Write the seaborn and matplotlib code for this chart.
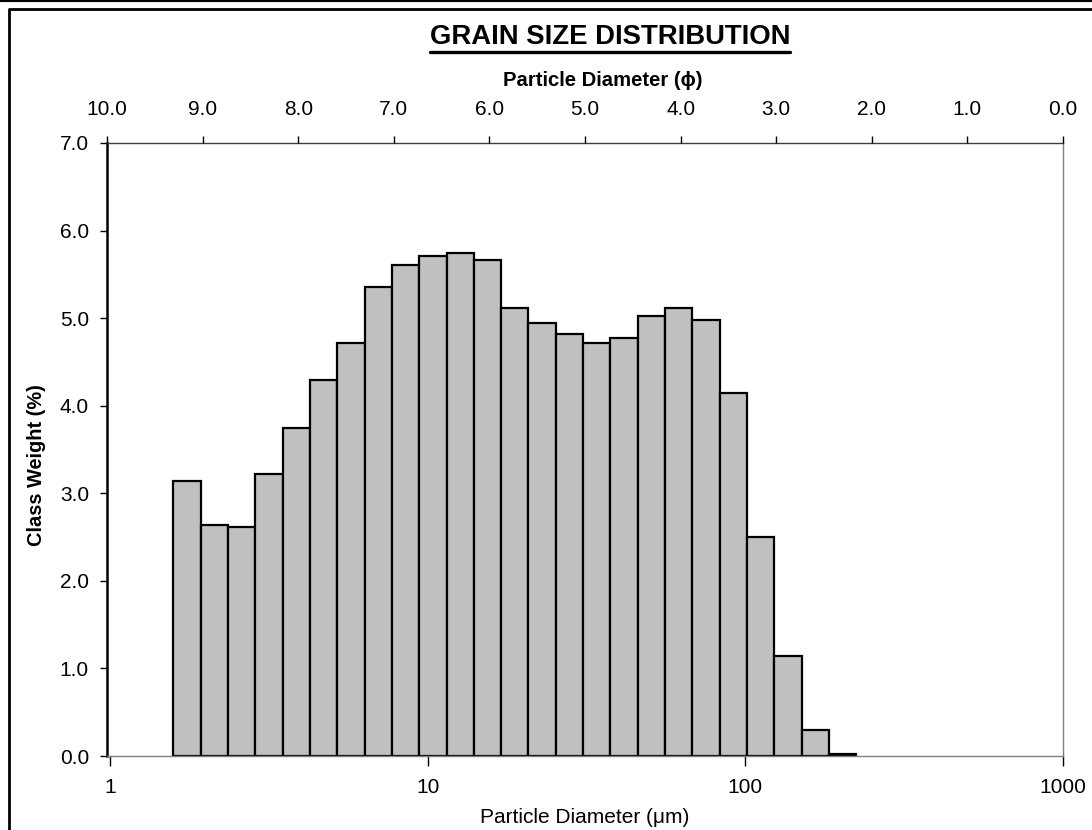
import numpy as np
import matplotlib.pyplot as plt
from matplotlib.lines import Line2D
import seaborn as sns

# ── Style ──────────────────────────────────────────────
sns.set_theme(style="ticks")
plt.rcParams["font.family"] = ["Liberation Sans", "DejaVu Sans"]
plt.rcParams["text.color"] = "black"
plt.rcParams["xtick.color"] = "black"
plt.rcParams["ytick.color"] = "black"

# ── Data ───────────────────────────────────────────────
# class edges in micrometres (geometric classes)
edges_um = [1.58, 1.93, 2.35, 2.86, 3.49, 4.25, 5.18, 6.32, 7.70, 9.39,
            11.45, 13.95, 17.01, 20.73, 25.27, 30.81, 37.56, 45.78, 55.81,
            68.03, 82.93, 101.1, 123.2, 150.2, 183.1, 223.2]
class_weight = [3.14, 2.64, 2.62, 3.22, 3.74, 4.29, 4.72, 5.35, 5.61, 5.71,
                5.74, 5.66, 5.12, 4.94, 4.82, 4.72, 4.77, 5.02, 5.12, 4.98,
                4.14, 2.50, 1.14, 0.30, 0.02]
um_ticks = [1, 10, 100, 1000]
phi_ticks = [10, 9, 8, 7, 6, 5, 4, 3, 2, 1, 0]
y_ticks = [0, 1, 2, 3, 4, 5, 6, 7]

W, H = 1092, 830
FS = 15


def fx(px):
    return px / W


def fy(py):
    return 1 - py / H


fig = plt.figure(figsize=(W / 100, H / 100), dpi=100)
fig.patch.set_facecolor("white")

# axes box: left 107, right 1063, top 143, bottom 756 (pixels)
ax = fig.add_axes([fx(107), fy(756), fx(1063) - fx(107), fy(143) - fy(756)])

edges = np.array(edges_um)
mids = np.sqrt(edges[:-1] * edges[1:])
# with log_scale, seaborn bins in log10 units
log_bins = [float(v) for v in np.log10(edges)]
sns.histplot(x=mids, weights=class_weight, bins=log_bins,
             log_scale=True, color="#C0C0C0", edgecolor="black",
             linewidth=1.6, alpha=1, ax=ax)

ax.set_xlim(1000 * 2.0 ** -10, 1000)
ax.set_ylim(0, 7)
ax.set_xticks(um_ticks)
ax.set_xticklabels([str(t) for t in um_ticks])
ax.xaxis.set_minor_locator(plt.NullLocator())
ax.set_yticks(y_ticks)
ax.set_yticklabels([f"{t:.1f}" for t in y_ticks])
ax.set_xlabel("")
ax.set_ylabel("")
ax.tick_params(axis="x", direction="out", length=7, width=1, pad=9,
               labelsize=FS)
ax.tick_params(axis="y", direction="out", length=5, width=1, pad=8,
               labelsize=FS)

for side in ["bottom", "right"]:
    ax.spines[side].set_color("#808080")
    ax.spines[side].set_linewidth(1.0)
ax.spines["left"].set_color("black")
ax.spines["left"].set_linewidth(1.8)
ax.spines["top"].set_color("#404040")
ax.spines["top"].set_linewidth(1.0)

# top phi axis
ax2 = ax.twiny()
ax2.set_xlim(10, 0)
ax2.set_xticks(phi_ticks)
ax2.set_xticklabels([f"{t:.1f}" for t in phi_ticks])
ax2.tick_params(axis="x", direction="out", length=5, width=1, pad=12,
                labelsize=FS)
for s in ax2.spines.values():
    s.set_visible(False)

# labels
fig.text(fx(585), fy(817), "Particle Diameter (μm)", ha="center",
         va="center", fontsize=FS)
fig.text(fx(603), fy(81), "Particle Diameter (ϕ)", ha="center",
         va="center", fontsize=14.6, fontweight="bold")
fig.text(fx(37), fy(465), "Class Weight (%)", ha="center", va="center",
         rotation=90, fontsize=14.4, fontweight="bold")
title = fig.text(fx(610), fy(37), "GRAIN SIZE DISTRIBUTION", ha="center",
                 va="center", fontsize=19.8, fontweight="bold")

# underline the title
fig.canvas.draw()
bb = title.get_window_extent(fig.canvas.get_renderer())
uy = fy(52.5)
fig.add_artist(Line2D([bb.x0 / W, bb.x1 / W], [uy, uy], color="black",
                      linewidth=2.4, transform=fig.transFigure))

# chart area frame (extends past the right and bottom edges)
fig.add_artist(Line2D([0, 1], [fy(1), fy(1)], color="black", linewidth=1.5,
                      transform=fig.transFigure))
fig.add_artist(Line2D([fx(9), fx(9), 1.01], [-0.01, fy(9.5), fy(9.5)],
                      color="black", linewidth=2.0,
                      transform=fig.transFigure))

fig.savefig("out.png", dpi=100)
